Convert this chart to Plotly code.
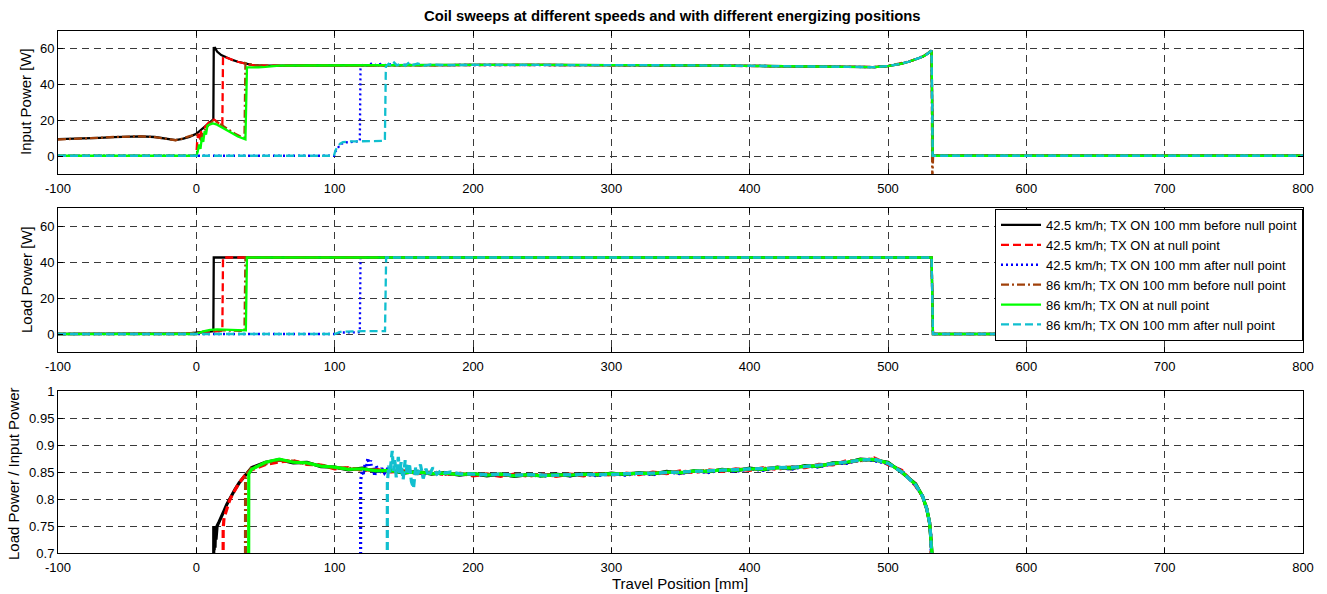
import plotly.graph_objects as go

# ---------------- DATA ----------------
SERIES_NAMES = [
    "42.5 km/h; TX ON 100 mm before null point",
    "42.5 km/h; TX ON at null point",
    "42.5 km/h; TX ON 100 mm after null point",
    "86 km/h; TX ON 100 mm before null point",
    "86 km/h; TX ON at null point",
    "86 km/h; TX ON 100 mm after null point",
]
X_TICKS = [-100, 0, 100, 200, 300, 400, 500, 600, 700, 800]
Y1_TICKS = [0, 20, 40, 60]
Y2_TICKS = [0, 20, 40, 60]
Y3_TICKS = [0.7, 0.75, 0.8, 0.85, 0.9, 0.95, 1]

# --- Input power: shared plateau tail (after all coils are energised) ---
IN_TAIL_X = [60, 80, 100, 150, 200, 250, 300, 350, 400, 450, 480, 490, 500, 505, 510,
             515, 520, 525, 528, 530, 531.5, 532.3, 540, 600, 700, 800]
IN_TAIL_Y = [50.6, 50.7, 50.8, 50.9, 51.0, 51.0, 51.0, 50.8, 50.5, 50.0, 49.7, 49.8, 50.4, 51.0, 51.8,
             52.8, 54.0, 55.6, 57.0, 58.3, 59.0, 0.2, 0.2, 0.2, 0.2, 0.2]
IN_TAIL_BROWN_X = [60, 80, 100, 150, 200, 250, 300, 350, 400, 450, 480, 490, 500, 505, 510,
                   515, 520, 525, 528, 530, 531.5, 532.0, 532.6, 540, 600, 700, 800]
IN_TAIL_BROWN_Y = [50.5, 50.6, 50.8, 50.9, 50.9, 51.0, 50.9, 50.8, 50.4, 50.0, 49.7, 49.9, 50.4, 51.1, 51.9,
                   52.9, 54.1, 55.7, 57.1, 58.4, 59.0, -15.0, 0.2, 0.2, 0.2, 0.2, 0.2]

BLACK_IN_X = [-100, -90, -80, -70, -60, -50, -40, -30, -25, -20, -15, -10, -5, 0, 4, 8, 11, 12.3,
              12.6, 13.2, 13.8, 15, 18, 22, 26, 30, 35, 40, 45, 50]
BLACK_IN_Y = [9.5, 9.6, 9.8, 10.2, 10.6, 10.9, 11.0, 10.7, 10.2, 9.4, 9.0, 9.6, 10.8, 12.5, 15.0, 17.5, 19.8, 20.5,
              61.0, 59.5, 60.2, 58.5, 56.5, 55.0, 53.8, 52.8, 51.8, 51.0, 50.7, 50.6]
RED_IN_X = [-100, -50, 0, 0.6, 1.5, 2.5, 3.5, 5, 7, 9, 11, 13, 15, 17, 18.8,
            19.3, 22, 26, 30, 35, 40, 45, 50]
RED_IN_Y = [0.2, 0.2, 0.2, 8.0, 12.5, 9.0, 13.5, 15.0, 17.0, 18.8, 20.3, 20.4, 19.2, 17.8, 17.2,
            56.0, 55.0, 53.8, 52.8, 51.8, 51.0, 50.7, 50.6]
BLUE_IN_X = [-100, 0, 50, 99.5, 100.5, 102, 104, 107, 111, 115, 118.2, 118.7, 121, 124, 127, 130,
             133, 136, 140, 146, 152, 160, 170, 180, 190]
BLUE_IN_Y = [0.2, 0.2, 0.2, 0.2, 2.5, 4.5, 6.5, 7.6, 8.0, 8.2, 8.3, 50.4, 51.3, 50.6, 52.0, 50.8,
             51.6, 50.9, 51.4, 50.8, 51.2, 50.9, 51.1, 50.9, 51.0]
BROWN_IN_X = [-100, -90, -80, -70, -60, -50, -40, -30, -25, -20, -15, -10, -5, 0, 3, 6, 9, 12,
              14, 17, 20, 24, 28, 32, 34.8, 35.5, 38, 42, 50]
BROWN_IN_Y = [9.3, 9.5, 9.9, 10.3, 10.7, 11.0, 11.1, 10.6, 10.0, 9.2, 8.9, 9.8, 11.2, 12.0, 9.5, 14.5, 17.5, 19.8,
              19.5, 18.0, 16.4, 14.3, 12.5, 11.0, 10.3, 52.0, 51.4, 50.9, 50.5]
GREEN_IN_X = [-100, -50, 0, 1, 2, 3, 4, 5, 6, 7, 8, 10, 12, 15, 20, 25, 30, 35.5,
              36.6, 40, 45, 50]
GREEN_IN_Y = [0.2, 0.2, 0.2, 2.5, 6.5, 4.0, 10.5, 8.0, 14.0, 12.0, 17.0, 17.8, 18.3, 17.6, 15.6, 13.2, 11.0, 9.4,
              49.6, 49.8, 49.7, 49.9]
CYAN_IN_X = [-100, 0, 50, 99.5, 100.5, 102, 104, 106, 110, 120, 130, 136.3, 137.0, 139, 141,
             143, 145, 148, 151, 154, 157, 160, 165, 170, 180, 190]
CYAN_IN_Y = [0.2, 0.2, 0.2, 0.2, 3.0, 5.2, 7.0, 7.8, 8.2, 8.3, 8.4, 8.5, 50.0, 51.6, 50.3,
             52.4, 50.8, 51.9, 50.5, 52.6, 51.0, 51.8, 50.6, 51.3, 50.9, 51.0]

# --- Load power ---
LOAD_TAIL_X = [50, 100, 200, 300, 400, 500, 531.5, 532.5, 600, 700, 800]
LOAD_TAIL_Y = [42.5, 42.5, 42.5, 42.5, 42.5, 42.5, 42.5, 0.0, 0.0, 0.0, 0.0]
BLACK_LOAD_X = [-100, -20, -10, -5, 0, 5, 10, 12.3, 12.6, 20]
BLACK_LOAD_Y = [0.0, 0.0, 0.2, 0.4, 0.7, 1.0, 1.4, 1.6, 42.5, 42.5]
RED_LOAD_X = [-100, 0, 3, 8, 12, 16, 18.8, 19.3, 25]
RED_LOAD_Y = [0.0, 0.0, 0.5, 1.0, 1.5, 1.8, 1.8, 42.5, 42.5]
BLUE_LOAD_X = [-100, 100, 104, 110, 118.2, 118.7, 125]
BLUE_LOAD_Y = [0.0, 0.0, 0.8, 1.0, 1.0, 42.5, 42.5]
BROWN_LOAD_X = [-100, -20, -10, 0, 5, 10, 20, 30, 34.8, 35.5, 40]
BROWN_LOAD_Y = [0.0, 0.0, 0.2, 0.7, 1.2, 1.7, 2.0, 1.8, 1.7, 42.5, 42.5]
GREEN_LOAD_X = [-100, 0, 5, 10, 15, 20, 30, 35.8, 36.6, 42]
GREEN_LOAD_Y = [0.0, 0.0, 1.5, 2.3, 2.6, 2.6, 2.2, 2.0, 42.5, 42.5]
CYAN_LOAD_X = [-100, 100, 104, 110, 120, 136.4, 137.2, 142]
CYAN_LOAD_Y = [0.0, 0.0, 1.2, 1.5, 1.6, 1.6, 42.5, 42.5]

# --- Efficiency (load / input) ---
EFF_X = [40, 50, 60, 70, 80, 90, 100, 110, 120, 130,
         140, 150, 160, 170, 180, 190, 200, 210, 220, 230,
         240, 250, 260, 270, 280, 290, 300, 310, 320, 330,
         340, 350, 360, 370, 380, 390, 400, 410, 420, 430,
         440, 450, 460, 470, 480, 490, 500, 510, 520]
EFF_TAIL_X = [525, 528, 530, 531, 531.8, 532]
EFF_TAIL_Y = [0.805, 0.782, 0.757, 0.730, 0.700, 0.600]

BLACK_EFF_ON_X = [12.5, 12.6, 12.9, 13.2, 13.5, 13.8, 14.2, 15, 16.5, 18, 20, 22, 25, 28, 31, 34, 37]
BLACK_EFF_ON_Y = [0.55, 0.750, 0.705, 0.745, 0.710, 0.740, 0.725, 0.750, 0.758, 0.768, 0.778, 0.790, 0.805,
                  0.818, 0.830, 0.840, 0.850]
BLACK_EFF = [0.858, 0.868, 0.873, 0.867, 0.868, 0.860, 0.859, 0.854, 0.857, 0.851,
             0.853, 0.848, 0.851, 0.846, 0.849, 0.844, 0.847, 0.843, 0.846, 0.842,
             0.845, 0.843, 0.846, 0.843, 0.847, 0.844, 0.848, 0.845, 0.849, 0.846,
             0.851, 0.848, 0.852, 0.850, 0.855, 0.852, 0.857, 0.854, 0.859, 0.856,
             0.862, 0.860, 0.867, 0.867, 0.874, 0.872, 0.868, 0.849, 0.828]

RED_EFF_ON_X = [19.3, 19.4, 20, 22, 24, 26, 28, 31, 34, 37]
RED_EFF_ON_Y = [0.55, 0.745, 0.765, 0.782, 0.797, 0.808, 0.818, 0.830, 0.840, 0.849]
RED_EFF = [0.854, 0.864, 0.869, 0.871, 0.864, 0.863, 0.856, 0.858, 0.853, 0.855,
           0.850, 0.852, 0.847, 0.850, 0.845, 0.848, 0.843, 0.846, 0.842, 0.846,
           0.842, 0.846, 0.842, 0.846, 0.843, 0.847, 0.844, 0.848, 0.845, 0.850,
           0.847, 0.852, 0.849, 0.854, 0.851, 0.856, 0.853, 0.858, 0.855, 0.860,
           0.858, 0.864, 0.863, 0.871, 0.870, 0.876, 0.864, 0.853, 0.824]

BLUE_EFF_ON_X = [118.7, 118.8, 120, 121, 122, 123, 124, 125, 126, 127, 128, 129, 130, 132, 134, 136,
                 138, 140, 143, 146]
BLUE_EFF_ON_Y = [0.55, 0.835, 0.852, 0.845, 0.866, 0.858, 0.876, 0.862, 0.872, 0.848, 0.858, 0.842, 0.862,
                 0.846, 0.857, 0.848, 0.855, 0.850, 0.853, 0.849]
BLUE_EFF = [0.851, 0.848, 0.848, 0.846, 0.845, 0.846, 0.844, 0.845, 0.843,
            0.845, 0.842, 0.845, 0.843, 0.846, 0.843, 0.847, 0.844, 0.848, 0.845,
            0.850, 0.847, 0.852, 0.849, 0.854, 0.851, 0.856, 0.853, 0.858, 0.855,
            0.861, 0.859, 0.866, 0.866, 0.873, 0.871, 0.865, 0.852, 0.825]

BROWN_EFF_ON_X = [35.5, 35.6, 37]
BROWN_EFF_ON_Y = [0.55, 0.838, 0.848]
BROWN_EFF = [0.857, 0.865, 0.872, 0.870, 0.865, 0.863, 0.857, 0.857, 0.854, 0.854,
             0.851, 0.851, 0.848, 0.849, 0.846, 0.847, 0.845, 0.846, 0.844, 0.845,
             0.844, 0.845, 0.843, 0.846, 0.844, 0.846, 0.845, 0.847, 0.847, 0.848,
             0.849, 0.850, 0.851, 0.852, 0.853, 0.854, 0.855, 0.856, 0.857, 0.858,
             0.860, 0.862, 0.865, 0.869, 0.872, 0.874, 0.866, 0.851, 0.826]

GREEN_EFF_ON_X = [37.8, 37.9, 39]
GREEN_EFF_ON_Y = [0.55, 0.846, 0.851]
GREEN_EFF = [0.855, 0.868, 0.874, 0.868, 0.867, 0.861, 0.859, 0.855, 0.856, 0.852,
             0.853, 0.849, 0.850, 0.847, 0.848, 0.845, 0.847, 0.844, 0.846, 0.843,
             0.845, 0.843, 0.845, 0.844, 0.846, 0.845, 0.847, 0.846, 0.848, 0.847,
             0.850, 0.849, 0.852, 0.851, 0.854, 0.853, 0.856, 0.855, 0.858, 0.857,
             0.861, 0.861, 0.866, 0.868, 0.873, 0.873, 0.867, 0.850, 0.827]

CYAN_EFF_ON_X = [138, 138.1, 139, 140, 141, 141.6, 142.5, 143.5, 144.5, 146, 147, 148, 149.5, 151, 152.5,
                 154, 155.5, 157, 158.5, 160, 162, 164, 166, 168, 171, 174, 177, 180, 184]
CYAN_EFF_ON_Y = [0.55, 0.830, 0.862, 0.848, 0.875, 0.889, 0.852, 0.872, 0.840, 0.878, 0.848, 0.868, 0.836,
                 0.872, 0.845, 0.866, 0.832, 0.820, 0.858, 0.845, 0.864, 0.838, 0.856, 0.842, 0.858,
                 0.846, 0.853, 0.848, 0.850]
CYAN_EFF = [0.847, 0.846, 0.845, 0.846, 0.844,
            0.845, 0.844, 0.844, 0.845, 0.845, 0.846, 0.845, 0.847, 0.847, 0.848,
            0.849, 0.850, 0.851, 0.852, 0.853, 0.854, 0.855, 0.856, 0.858, 0.858,
            0.860, 0.863, 0.865, 0.869, 0.872, 0.874, 0.866, 0.850, 0.826]

# ---------------- STYLE ----------------
COLORS = ["#000000", "#ff0000", "#0000ff", "#a0400a", "#00ff00", "#11bfcf"]
DASHES = ["solid", "8px,4px", "2px,3px", "8px,3px,2px,3px", "solid", "8px,4px"]
FONT = "Liberation Sans, Arial, sans-serif"


def tail_from(xs, ys, start):
    out_x, out_y = [], []
    for a, b in zip(xs, ys):
        if a >= start:
            out_x.append(a)
            out_y.append(b)
    return out_x, out_y


input_series = [
    (BLACK_IN_X + IN_TAIL_X, BLACK_IN_Y + IN_TAIL_Y),
    (RED_IN_X + IN_TAIL_X, RED_IN_Y + IN_TAIL_Y),
    (BLUE_IN_X + tail_from(IN_TAIL_X, IN_TAIL_Y, 200)[0], BLUE_IN_Y + tail_from(IN_TAIL_X, IN_TAIL_Y, 200)[1]),
    (BROWN_IN_X + IN_TAIL_BROWN_X, BROWN_IN_Y + IN_TAIL_BROWN_Y),
    (GREEN_IN_X + IN_TAIL_X, GREEN_IN_Y + IN_TAIL_Y),
    (CYAN_IN_X + tail_from(IN_TAIL_X, IN_TAIL_Y, 200)[0], CYAN_IN_Y + tail_from(IN_TAIL_X, IN_TAIL_Y, 200)[1]),
]
load_series = [
    (BLACK_LOAD_X + LOAD_TAIL_X, BLACK_LOAD_Y + LOAD_TAIL_Y),
    (RED_LOAD_X + LOAD_TAIL_X, RED_LOAD_Y + LOAD_TAIL_Y),
    (BLUE_LOAD_X + tail_from(LOAD_TAIL_X, LOAD_TAIL_Y, 200)[0], BLUE_LOAD_Y + tail_from(LOAD_TAIL_X, LOAD_TAIL_Y, 200)[1]),
    (BROWN_LOAD_X + LOAD_TAIL_X, BROWN_LOAD_Y + LOAD_TAIL_Y),
    (GREEN_LOAD_X + LOAD_TAIL_X, GREEN_LOAD_Y + LOAD_TAIL_Y),
    (CYAN_LOAD_X + tail_from(LOAD_TAIL_X, LOAD_TAIL_Y, 200)[0], CYAN_LOAD_Y + tail_from(LOAD_TAIL_X, LOAD_TAIL_Y, 200)[1]),
]
eff_series = [
    (BLACK_EFF_ON_X + EFF_X + EFF_TAIL_X, BLACK_EFF_ON_Y + BLACK_EFF + EFF_TAIL_Y),
    (RED_EFF_ON_X + EFF_X + EFF_TAIL_X, RED_EFF_ON_Y + RED_EFF + EFF_TAIL_Y),
    (BLUE_EFF_ON_X + EFF_X[-len(BLUE_EFF):] + EFF_TAIL_X, BLUE_EFF_ON_Y + BLUE_EFF + EFF_TAIL_Y),
    (BROWN_EFF_ON_X + EFF_X + EFF_TAIL_X, BROWN_EFF_ON_Y + BROWN_EFF + EFF_TAIL_Y),
    (GREEN_EFF_ON_X + EFF_X + EFF_TAIL_X, GREEN_EFF_ON_Y + GREEN_EFF + EFF_TAIL_Y),
    (CYAN_EFF_ON_X + EFF_X[-len(CYAN_EFF):] + EFF_TAIL_X, CYAN_EFF_ON_Y + CYAN_EFF + EFF_TAIL_Y),
]

fig = go.Figure()
panels = [(input_series, "x", "y", 2.3), (load_series, "x2", "y2", 2.3), (eff_series, "x3", "y3", 3.2)]
for p, (series, xa, ya, lw) in enumerate(panels):
    for i, (xs, ys) in enumerate(series):
        fig.add_trace(go.Scatter(
            x=xs, y=ys, mode="lines", name=SERIES_NAMES[i],
            line=dict(color=COLORS[i], width=lw, dash=DASHES[i]),
            xaxis=xa, yaxis=ya, showlegend=(p == 0), legendrank=i,
        ))

# layout geometry (pixels -> normalised)
W, H = 1327, 594
ML, MR, MT, MB = 58, 24, 31, 41
PW, PH = W - ML - MR, H - MT - MB


def ydom(top_px, bot_px):
    return [1 - (bot_px - MT) / PH, 1 - (top_px - MT) / PH]


axis_common = dict(
    showline=True, linecolor="#000000", linewidth=1, mirror="ticks",
    ticks="inside", ticklen=5, tickcolor="#000000", tickwidth=1,
    showgrid=True, gridcolor="#3a3a3a", gridwidth=1, griddash="7px,5px",
    zeroline=False, tickfont=dict(family=FONT, size=13, color="#000000"),
)
xcommon = dict(axis_common, range=[-100, 800], tickmode="array", tickvals=X_TICKS,
               ticktext=[str(v) for v in X_TICKS], ticklabelstandoff=2)

fig.update_layout(
    width=W, height=H,
    margin=dict(l=ML, r=MR, t=MT, b=MB, pad=0),
    paper_bgcolor="white", plot_bgcolor="white",
    font=dict(family=FONT, size=13, color="#000000"),
    xaxis=dict(xcommon, domain=[0, 1], anchor="y"),
    xaxis2=dict(xcommon, domain=[0, 1], anchor="y2"),
    xaxis3=dict(xcommon, domain=[0, 1], anchor="y3"),
    yaxis=dict(axis_common, domain=ydom(31, 174), range=[-10, 70], tickvals=Y1_TICKS, anchor="x"),
    yaxis2=dict(axis_common, domain=ydom(208, 352), range=[-10, 70], tickvals=Y2_TICKS, anchor="x2"),
    yaxis3=dict(axis_common, domain=ydom(391, 553), range=[0.7, 1.0], tickvals=Y3_TICKS,
                ticktext=["0.7", "0.75", "0.8", "0.85", "0.9", "0.95", "1"], anchor="x3"),
    legend=dict(
        x=1, xanchor="right", y=ydom(209, 352)[1], yanchor="top",
        bgcolor="white", bordercolor="#000000", borderwidth=1,
        font=dict(family=FONT, size=13, color="#000000"),
        tracegroupgap=0, itemwidth=40,
    ),
    showlegend=True,
)


def px_x(px):
    return (px - ML) / PW


def px_y(py):
    return 1 - (py - MT) / PH


annotations = [
    dict(text="<b>Coil sweeps at different speeds and with different energizing positions</b>",
         x=px_x(672), y=px_y(16), xref="paper", yref="paper", showarrow=False,
         xanchor="center", yanchor="middle", font=dict(family=FONT, size=14.8)),
    dict(text="Travel Position [mm]", x=px_x(680), y=px_y(583), xref="paper", yref="paper",
         showarrow=False, xanchor="center", yanchor="middle", font=dict(family=FONT, size=15)),
    dict(text="Input Power [W]", x=px_x(25), y=px_y(102), xref="paper", yref="paper", textangle=-90,
         showarrow=False, xanchor="center", yanchor="middle", font=dict(family=FONT, size=15)),
    dict(text="Load Power [W]", x=px_x(26), y=px_y(280), xref="paper", yref="paper", textangle=-90,
         showarrow=False, xanchor="center", yanchor="middle", font=dict(family=FONT, size=15)),
    dict(text="Load Power / Input Power", x=px_x(13), y=px_y(474), xref="paper", yref="paper",
         textangle=-90, showarrow=False, xanchor="center", yanchor="middle",
         font=dict(family=FONT, size=15)),
]
fig.update_layout(annotations=annotations)

fig.write_html("out.html")
